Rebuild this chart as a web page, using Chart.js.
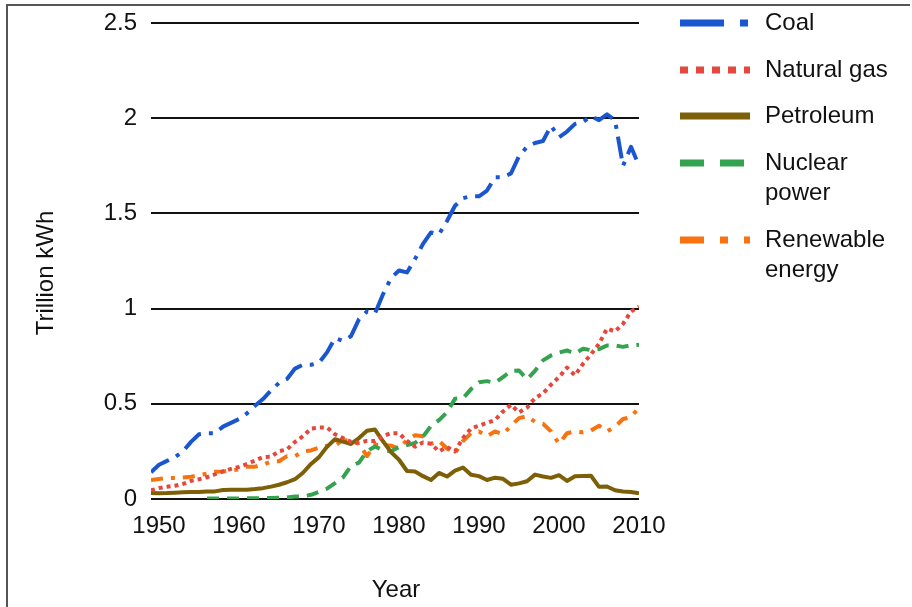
<!DOCTYPE html>
<html>
<head>
<meta charset="utf-8">
<script src="https://cdn.jsdelivr.net/npm/chart.js@4.4.0/dist/chart.umd.min.js"></script>
<style>
  html, body { margin: 0; padding: 0; background: #fff; }
  #wrap { position: relative; width: 912px; height: 607px; overflow: hidden; }
  #frame { position: absolute; left: 6px; top: 4px; width: 902px; height: 700px;
           border-top: 2px solid #555; border-left: 2px solid #555; }
  canvas { position: absolute; left: 0; top: 0; }
</style>
</head>
<body>
<div id="wrap">
  <div id="frame"></div>
  <canvas id="chart" width="912" height="607"></canvas>
</div>
<script>
// Years on the x axis (1950 - 2011)
const years = [];
for (let y = 1950; y <= 2011; y++) years.push(y);
const tickYears = [1950, 1960, 1970, 1980, 1990, 2000, 2010];
const yTicks = [0, 0.5, 1, 1.5, 2, 2.5];

const seriesNames = ['Coal', 'Natural gas', 'Petroleum', ['Nuclear', 'power'], ['Renewable', 'energy']];

// Trillion kWh
const coal = [
  0.14, 0.18, 0.20, 0.22, 0.25, 0.30, 0.34, 0.345, 0.345, 0.38,
  0.40, 0.42, 0.45, 0.49, 0.525, 0.57, 0.61, 0.63, 0.685, 0.705,
  0.705, 0.715, 0.77, 0.845, 0.83, 0.855, 0.945, 0.985, 0.975, 1.075,
  1.16, 1.20, 1.19, 1.26, 1.34, 1.40, 1.39, 1.46, 1.54, 1.58,
  1.59, 1.59, 1.62, 1.69, 1.69, 1.71, 1.80, 1.85, 1.87, 1.88,
  1.96, 1.90, 1.93, 1.97, 1.98, 2.01, 1.99, 2.02, 1.99, 1.75,
  1.85, 1.75
];
const naturalGas = [
  0.045, 0.057, 0.064, 0.07, 0.079, 0.095, 0.104, 0.114, 0.13, 0.145,
  0.158, 0.169, 0.184, 0.202, 0.22, 0.222, 0.251, 0.26, 0.30, 0.33,
  0.37, 0.375, 0.376, 0.34, 0.32, 0.30, 0.295, 0.305, 0.305, 0.33,
  0.346, 0.345, 0.305, 0.275, 0.297, 0.29, 0.25, 0.273, 0.25, 0.32,
  0.37, 0.385, 0.40, 0.415, 0.46, 0.495, 0.455, 0.48, 0.53, 0.555,
  0.60, 0.64, 0.69, 0.65, 0.71, 0.76, 0.815, 0.895, 0.88, 0.92,
  0.985, 1.01
];
const petroleum = [
  0.032, 0.03, 0.031, 0.033, 0.035, 0.037, 0.037, 0.04, 0.04, 0.047,
  0.048, 0.049, 0.049, 0.052, 0.057, 0.065, 0.075, 0.088, 0.104, 0.138,
  0.184, 0.22, 0.274, 0.314, 0.301, 0.289, 0.32, 0.358, 0.365, 0.303,
  0.246, 0.206, 0.147, 0.144, 0.12, 0.10, 0.137, 0.118, 0.149, 0.165,
  0.127, 0.12, 0.10, 0.112, 0.106, 0.075, 0.082, 0.093, 0.128, 0.118,
  0.111, 0.125, 0.095, 0.119, 0.121, 0.122, 0.064, 0.066, 0.046, 0.039,
  0.037, 0.03
];
const nuclear = [
  null, null, null, null, null, null, null, 0.002, 0.002, 0.002,
  0.002, 0.003, 0.004, 0.004, 0.005, 0.005, 0.006, 0.008, 0.013, 0.014,
  0.022, 0.038, 0.054, 0.083, 0.114, 0.173, 0.191, 0.251, 0.276, 0.255,
  0.251, 0.273, 0.283, 0.294, 0.328, 0.384, 0.414, 0.455, 0.527, 0.529,
  0.577, 0.613, 0.619, 0.61, 0.64, 0.673, 0.675, 0.629, 0.673, 0.728,
  0.754, 0.769, 0.78, 0.764, 0.789, 0.782, 0.787, 0.806, 0.806, 0.799,
  0.807, 0.81
];
const renewable = [
  0.10, 0.105, 0.11, 0.11, 0.113, 0.117, 0.125, 0.133, 0.143, 0.145,
  0.15, 0.155, 0.17, 0.17, 0.18, 0.197, 0.198, 0.225, 0.225, 0.25,
  0.255, 0.27, 0.28, 0.28, 0.31, 0.305, 0.29, 0.225, 0.285, 0.285,
  0.28, 0.265, 0.31, 0.335, 0.33, 0.29, 0.305, 0.265, 0.24, 0.305,
  0.345, 0.355, 0.33, 0.355, 0.34, 0.385, 0.425, 0.435, 0.405, 0.395,
  0.355, 0.29, 0.345, 0.355, 0.35, 0.36, 0.385, 0.355, 0.38, 0.42,
  0.43, 0.48
];

const FONT = '"Liberation Sans", Arial, sans-serif';
const TEXT = '#111';

function makeSet(label, data, color, dash) {
  return {
    label, data,
    borderColor: color,
    backgroundColor: color,
    borderWidth: 4,
    borderDash: dash,
    borderCapStyle: 'butt',
    borderJoinStyle: 'round',
    pointRadius: 0,
    tension: 0,
    fill: false,
    spanGaps: false
  };
}

// legend + axis titles, drawn by hand so the labels can wrap
const overlay = {
  id: 'overlay',
  afterDraw(chart) {
    const ctx = chart.ctx;
    const rows = [23, 70, 116, 163, 240];
    ctx.save();
    chart.data.datasets.forEach((ds, i) => {
      const y = rows[i];
      ctx.beginPath();
      ctx.strokeStyle = ds.borderColor;
      ctx.lineWidth = 7;
      ctx.lineCap = 'butt';
      ctx.setLineDash(ds.borderDash.map(d => d * 2));
      ctx.moveTo(680, y);
      ctx.lineTo(750, y);
      ctx.stroke();
      ctx.setLineDash([]);
      ctx.fillStyle = TEXT;
      ctx.font = '24px ' + FONT;
      ctx.textAlign = 'left';
      ctx.textBaseline = 'middle';
      [].concat(seriesNames[i]).forEach((t, j) => ctx.fillText(t, 765, y + j * 30));
    });

    ctx.fillStyle = TEXT;
    ctx.font = '24px ' + FONT;
    ctx.textAlign = 'center';
    ctx.textBaseline = 'alphabetic';
    ctx.fillText('Year', 396, 597);
    ctx.translate(53, 273);
    ctx.rotate(-Math.PI / 2);
    ctx.fillText('Trillion kWh', 0, 0);
    ctx.restore();
  }
};

new Chart(document.getElementById('chart'), {
  type: 'line',
  data: {
    labels: years,
    datasets: [
      makeSet('Coal', coal, '#1a56cf', [22, 8, 4, 8]),
      makeSet('Natural gas', naturalGas, '#e5473d', [4, 4]),
      makeSet('Petroleum', petroleum, '#7d5f08', []),
      makeSet('Nuclear power', nuclear, '#34a24f', [12, 8]),
      makeSet('Renewable energy', renewable, '#f8730f', [12, 8, 4, 8])
    ]
  },
  options: {
    responsive: false,
    animation: false,
    devicePixelRatio: 1,
    layout: { padding: { left: 0, right: 273, top: 23, bottom: 0 } },
    plugins: {
      legend: { display: false },
      tooltip: { enabled: false },
      title: { display: false }
    },
    scales: {
      x: {
        type: 'linear',
        min: 1950,
        max: 2011,
        grid: { display: false, drawTicks: false },
        border: { display: false },
        afterBuildTicks: s => { s.ticks = tickYears.map(v => ({ value: v })); },
        afterFit: s => { s.height = 108; s.paddingLeft = 0; s.paddingRight = 0; },
        ticks: {
          padding: 13,
          labelOffset: 8,
          maxRotation: 0,
          autoSkip: false,
          color: TEXT,
          font: { family: FONT, size: 24 },
          callback: v => String(v)
        }
      },
      y: {
        min: 0,
        max: 2.5,
        grid: { color: '#111', lineWidth: 2, drawTicks: false },
        border: { display: false },
        afterBuildTicks: s => { s.ticks = yTicks.map(v => ({ value: v })); },
        afterFit: s => { s.width = 151; s.paddingTop = 0; s.paddingBottom = 0; },
        ticks: {
          padding: 14,
          color: TEXT,
          font: { family: FONT, size: 24 },
          callback: v => String(v)
        }
      }
    }
  },
  plugins: [overlay]
});
</script>
</body>
</html>
